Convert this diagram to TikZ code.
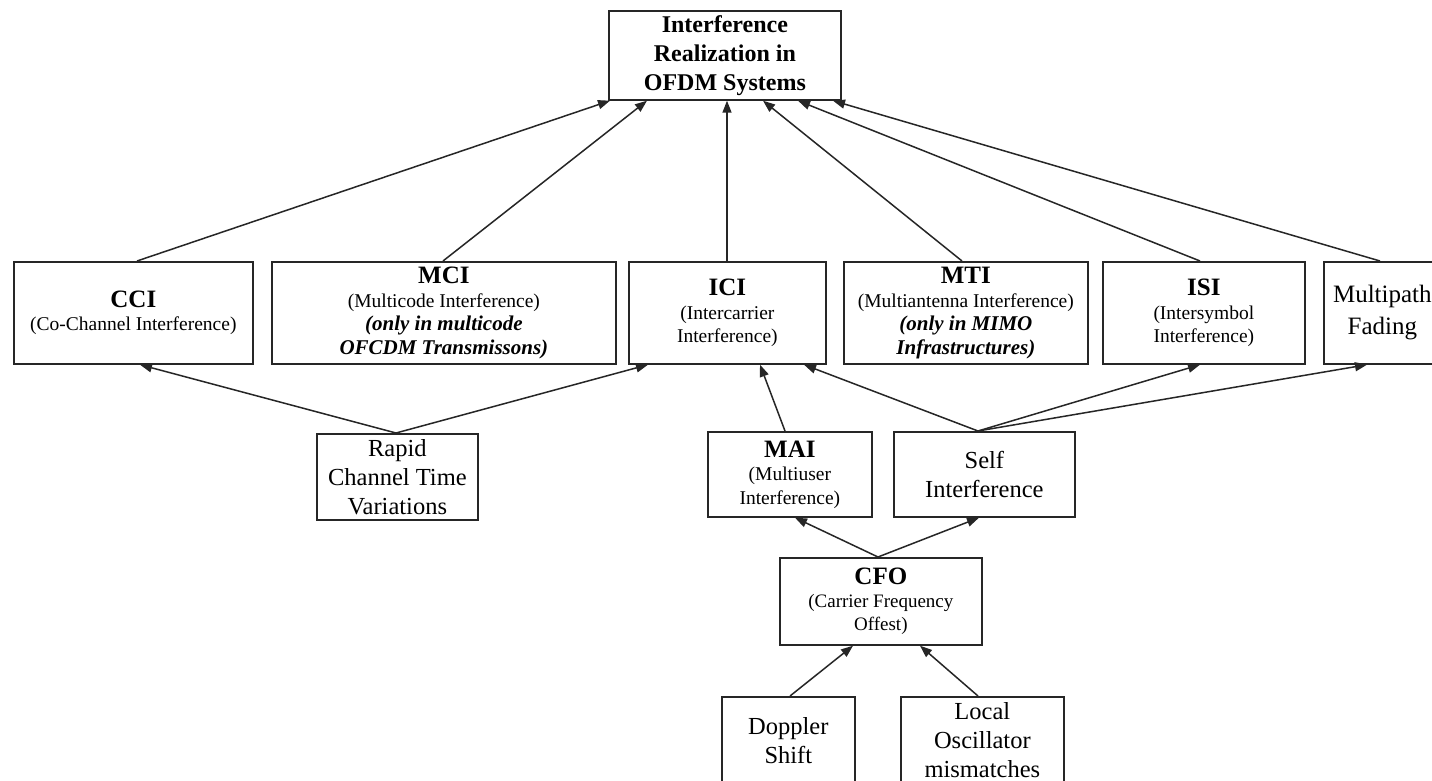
\documentclass[tikz,border=0pt]{standalone}
\usepackage{fontspec}
\setmainfont{Liberation Serif}
\usetikzlibrary{arrows.meta}
\newcommand\ttl[1]{{\fontsize{25}{28}\selectfont\bfseries #1}}
\newcommand\bitl[1]{{\fontsize{21}{24}\selectfont\bfseries\itshape #1}}
\begin{document}
\begin{tikzpicture}[x=1pt,y=-1pt,
  box/.style={draw=black!85, line width=1.7pt, inner sep=0pt, align=center, anchor=north west, text=black,
    font=\fontsize{19.5}{23.5}\selectfont},
  big/.style={font=\fontsize{24.5}{29}\selectfont},
  conn/.style={draw=black!85, line width=1.5pt, -{Triangle[length=12pt,width=9pt]}}
]
\useasboundingbox (0,0) rectangle (1432,781);
\clip (0,0) rectangle (1432,781);
\fill[white] (0,0) rectangle (1432,781);

% top
\node[box, minimum width=232pt, minimum height=89pt, font=\fontsize{24}{29}\selectfont\bfseries] (top) at (608,10)
  {Interference\\Realization in\\OFDM Systems};

% middle row
\node[box, minimum width=239pt, minimum height=102pt] (cci) at (13,261)
  {\ttl{CCI}\\(Co-Channel Interference)};
\node[box, minimum width=344pt, minimum height=102pt] (mci) at (271,261)
  {\ttl{MCI}\\(Multicode Interference)\\\bitl{(only in multicode}\\\bitl{OFCDM Transmissons)}};
\node[box, minimum width=197pt, minimum height=102pt] (ici) at (628,261)
  {\ttl{ICI}\\(Intercarrier\\Interference)};
\node[box, minimum width=244pt, minimum height=102pt] (mti) at (843,261)
  {\ttl{MTI}\\(Multiantenna Interference)\\\bitl{(only in MIMO}\\\bitl{Infrastructures)}};
\node[box, minimum width=202pt, minimum height=102pt] (isi) at (1102,261)
  {\ttl{ISI}\\(Intersymbol\\Interference)};
\node[box, big, minimum width=117pt, minimum height=102pt, font=\fontsize{25}{32}\selectfont] (mpf) at (1323,261)
  {Multipath\\Fading};

% lower rows
\node[box, big, minimum width=161pt, minimum height=86pt, font=\fontsize{24.5}{29}\selectfont] (rapid) at (316,433)
  {Rapid\\Channel Time\\Variations};
\node[box, minimum width=164pt, minimum height=85pt] (mai) at (707,431)
  {\ttl{MAI}\\(Multiuser\\Interference)};
\node[box, big, minimum width=181pt, minimum height=85pt] (self) at (893,431)
  {Self\\Interference};
\node[box, minimum width=202pt, minimum height=87pt, font=\fontsize{19}{23}\selectfont] (cfo) at (779,557)
  {\ttl{CFO}\\(Carrier Frequency\\Offest)};
\node[box, big, minimum width=133pt, minimum height=87pt] (dop) at (721,696)
  {Doppler\\Shift};
\node[box, big, minimum width=163pt, minimum height=87pt] (loc) at (900,696)
  {Local\\Oscillator\\mismatches};

% connectors to top
\draw[conn] ([xshift=124pt]cci.north west) -- ([xshift=2pt]top.south west);
\draw[conn] ([xshift=172pt]mci.north west) -- ([xshift=39pt]top.south west);
\draw[conn] ([xshift=99pt]ici.north west) -- ([xshift=119pt]top.south west);
\draw[conn] ([xshift=119pt]mti.north west) -- ([xshift=155pt]top.south west);
\draw[conn] ([xshift=98pt]isi.north west) -- ([xshift=190pt]top.south west);
\draw[conn] ([xshift=57pt]mpf.north west) -- ([xshift=225pt]top.south west);

% rapid
\draw[conn] ([xshift=80pt]rapid.north west) -- ([xshift=127pt]cci.south west);
\draw[conn] ([xshift=80pt]rapid.north west) -- ([xshift=20pt]ici.south west);
% mai
\draw[conn] ([xshift=78pt]mai.north west) -- ([xshift=132pt]ici.south west);
% self
\draw[conn] ([xshift=85pt]self.north west) -- ([xshift=176pt]ici.south west);
\draw[conn] ([xshift=85pt]self.north west) -- ([xshift=98pt]isi.south west);
\draw[conn] ([xshift=85pt]self.north west) -- ([xshift=44pt]mpf.south west);
% cfo
\draw[conn] ([xshift=99pt]cfo.north west) -- ([xshift=88pt]mai.south west);
\draw[conn] ([xshift=99pt]cfo.north west) -- ([xshift=86pt]self.south west);
% doppler, local
\draw[conn] ([xshift=69pt]dop.north west) -- ([xshift=74pt]cfo.south west);
\draw[conn] ([xshift=78pt]loc.north west) -- ([xshift=141pt]cfo.south west);
\end{tikzpicture}
\end{document}
